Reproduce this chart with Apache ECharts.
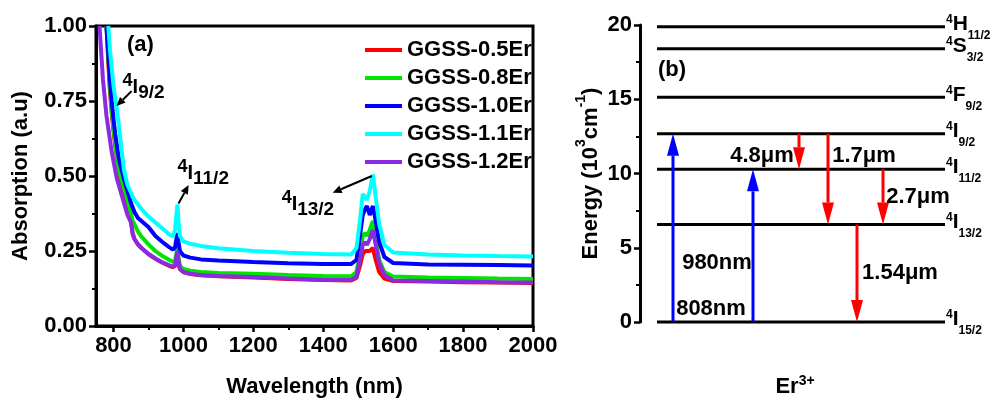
<!DOCTYPE html>
<html><head><meta charset="utf-8">
<script src="https://cdn.jsdelivr.net/npm/echarts@6/dist/echarts.min.js"></script>
<style>html,body{margin:0;padding:0;background:#fff}#c{width:992px;height:403px}</style>
</head><body><div id="c"></div>
<script>
// ---------- Panel (a): absorption spectra ----------
const wavelength = [760,770,780,785,790,795,800,805,810,815,820,830,840,850,855,860,870,880,900,920,940,960,970,976,980,983,986,990,1000,1020,1050,1100,1200,1300,1400,1480,1495,1505,1513,1520,1525,1533,1542,1550,1560,1575,1600,1700,1800,1900,2000];
const absEr05 = [null,null,1.0,0.88,0.78,0.71,0.65,0.60,0.56,0.52,0.49,0.43,0.38,0.35,0.31,0.29,0.272,0.26,0.24,0.224,0.211,0.200,0.196,0.200,0.222,0.232,0.210,0.190,0.180,0.173,0.169,0.166,0.162,0.157,0.153,0.152,0.160,0.200,0.240,0.250,0.245,0.250,0.260,0.220,0.180,0.158,0.150,0.148,0.146,0.145,0.143];
const absEr08 = [null,null,1.0,0.90,0.80,0.72,0.66,0.61,0.56,0.52,0.50,0.46,0.42,0.375,0.35,0.34,0.315,0.298,0.272,0.250,0.233,0.220,0.214,0.216,0.240,0.263,0.230,0.200,0.190,0.184,0.180,0.177,0.174,0.170,0.167,0.166,0.180,0.240,0.300,0.310,0.300,0.320,0.350,0.290,0.220,0.180,0.165,0.162,0.160,0.158,0.157];
const absEr10 = [null,null,1.0,0.91,0.82,0.75,0.69,0.64,0.60,0.56,0.535,0.49,0.45,0.41,0.395,0.38,0.36,0.35,0.33,0.30,0.28,0.262,0.255,0.262,0.290,0.310,0.280,0.250,0.235,0.228,0.222,0.218,0.213,0.209,0.207,0.207,0.220,0.300,0.370,0.390,0.400,0.370,0.400,0.350,0.280,0.230,0.210,0.205,0.204,0.203,0.202];
const absEr11 = [null,null,null,1.0,0.92,0.86,0.80,0.76,0.72,0.67,0.62,0.52,0.47,0.445,0.43,0.42,0.405,0.39,0.365,0.345,0.325,0.305,0.298,0.320,0.370,0.405,0.350,0.300,0.282,0.274,0.267,0.259,0.250,0.244,0.240,0.238,0.260,0.350,0.440,0.430,0.420,0.450,0.505,0.430,0.340,0.270,0.245,0.238,0.235,0.233,0.232];
const absEr12 = [1.0,0.82,0.70,0.66,0.62,0.58,0.55,0.52,0.49,0.47,0.45,0.41,0.37,0.345,0.305,0.29,0.272,0.26,0.24,0.225,0.212,0.202,0.198,0.200,0.230,0.250,0.220,0.190,0.180,0.174,0.170,0.167,0.163,0.158,0.154,0.153,0.165,0.220,0.270,0.280,0.270,0.290,0.320,0.270,0.210,0.170,0.152,0.150,0.148,0.146,0.145];
const seriesNames = ['GGSS-0.5Er','GGSS-0.8Er','GGSS-1.0Er','GGSS-1.1Er','GGSS-1.2Er'];
const xTickValues = [800,1000,1200,1400,1600,1800,2000];
const xMinorTickValues = [900,1100,1300,1500,1700,1900];
// annotations of panel (a)
const termA = [['4','I','9/2'],['4','I','11/2'],['4','I','13/2']];
const termAWl = [826,983,1281];
const termAAbs = [0.796,0.51,0.405];
const pointerFromWl = [851.6,986,1539];
const pointerFromAbs = [0.783,0.408,0.5];
const pointerToWl = [808.6,1015,1427];
const pointerToAbs = [0.733,0.47,0.444];

// ---------- Panel (b): Er3+ energy levels ----------
const levelLetter = ['H','S','F','I','I','I','I'];
const levelJ = ['11/2','3/2','9/2','9/2','11/2','13/2','15/2'];
const levelEnergy = [19.88,18.4,15.13,12.68,10.28,6.56,0];
const transLabel = ['808nm','980nm','4.8μm','1.7μm','1.54μm','2.7μm'];
const transFrom = [0,0,12.68,12.68,6.56,10.28];
const transTo = [12.68,10.28,10.28,6.56,0,6.56];
const transX = [33,113,159,188,217,243];
const transLabelX = [71,77,122,224,260,278];
const transLabelE = [0.85,4.0,11.15,11.15,3.28,8.4];

const colors = ['#ff0000','#00e400','#0000ff','#00ffff','#8a2be2'];
const FONT = '"Liberation Sans", Arial, sans-serif';
const BOLD = 'bold';

function arrowShape(p0, p1, headL, headW, color, lw) {
  const dx = p1[0]-p0[0], dy = p1[1]-p0[1];
  const len = Math.sqrt(dx*dx+dy*dy);
  const ux = dx/len, uy = dy/len;
  const bx = p1[0]-ux*headL, by = p1[1]-uy*headL;
  const nx = -uy, ny = ux;
  return [
    {type:'line', shape:{x1:p0[0],y1:p0[1],x2:bx,y2:by}, style:{stroke:color,lineWidth:lw}},
    {type:'polygon', shape:{points:[[p1[0],p1[1]],[bx+nx*headW/2,by+ny*headW/2],[bx-nx*headW/2,by-ny*headW/2]]}, style:{fill:color}}
  ];
}

const termRichA = {
  s:{fontSize:18,fontWeight:BOLD,fontFamily:FONT,lineHeight:17,verticalAlign:'top',fill:'#000'},
  m:{fontSize:20,fontWeight:BOLD,fontFamily:FONT,lineHeight:30,verticalAlign:'middle',fill:'#000'},
  b:{fontSize:19,fontWeight:BOLD,fontFamily:FONT,lineHeight:18,verticalAlign:'bottom',fill:'#000'}
};
const termRichB = {
  s:{fontSize:12,fontWeight:BOLD,fontFamily:FONT,lineHeight:12,verticalAlign:'top',fill:'#000'},
  m:{fontSize:21,fontWeight:BOLD,fontFamily:FONT,lineHeight:28,verticalAlign:'top',fill:'#000'},
  b:{fontSize:12,fontWeight:BOLD,fontFamily:FONT,lineHeight:12,verticalAlign:'bottom',fill:'#000'}
};

const spectra = [absEr05,absEr08,absEr10,absEr11,absEr12].map((arr,k)=>({
  type:'line', name:seriesNames[k], xAxisIndex:0, yAxisIndex:0,
  data: wavelength.map((w,i)=>[w,arr[i]]).filter(d=>d[1]!==null),
  symbol:'none', lineStyle:{width:4,color:colors[k]}, itemStyle:{color:colors[k]}, clip:true, z:2
}));

const option = {
  animation:false,
  backgroundColor:'#fff',
  textStyle:{fontFamily:FONT,fontWeight:BOLD,color:'#000'},
  grid:[
    {left:96,right:459,top:26,bottom:73,show:true,borderColor:'#000',borderWidth:3,backgroundColor:'transparent'},
    {left:640,right:42,top:25,bottom:73}
  ],
  legend:{
    data:seriesNames, orient:'vertical', left:360, top:34, itemWidth:37, itemHeight:4, itemGap:6,
    icon:'rect', selectedMode:false,
    textStyle:{fontSize:22,fontWeight:BOLD,fontFamily:FONT,color:'#000',lineHeight:22}
  },
  xAxis:[
    {gridIndex:0,type:'value',min:750,max:2000,position:'bottom',
     axisLine:{show:true,lineStyle:{color:'#000',width:3}},
     axisTick:{show:true,customValues:xTickValues,length:6,lineStyle:{color:'#000',width:2.5}},
     axisLabel:{customValues:xTickValues,formatter:v=>String(v),fontSize:22,fontWeight:BOLD,fontFamily:FONT,color:'#000',margin:9},
     splitLine:{show:false},
     name:'Wavelength (nm)',nameLocation:'middle',nameGap:50,
     nameTextStyle:{fontSize:22,fontWeight:BOLD,fontFamily:FONT,color:'#000'}},
    {gridIndex:0,type:'value',min:750,max:2000,position:'bottom',
     axisLine:{show:false},
     axisTick:{show:true,customValues:xMinorTickValues,length:4,lineStyle:{color:'#000',width:2}},
     axisLabel:{show:false},splitLine:{show:false}},
    {gridIndex:1,type:'value',min:0,max:310,
     axisLine:{show:false},axisTick:{show:false},axisLabel:{show:false},splitLine:{show:false},
     name:'{a|Er}{b|3+}',nameLocation:'middle',nameGap:52,
     nameTextStyle:{rich:{
       a:{fontSize:22,fontWeight:BOLD,fontFamily:FONT,color:'#000',lineHeight:26,verticalAlign:'middle'},
       b:{fontSize:14,fontWeight:BOLD,fontFamily:FONT,color:'#000',lineHeight:14,verticalAlign:'top'}}}}
  ],
  yAxis:[
    {gridIndex:0,type:'value',min:0,max:1,interval:0.25,
     axisLine:{show:true,lineStyle:{color:'#000',width:3}},
     axisTick:{show:true,length:7,lineStyle:{color:'#000',width:2.5}},
     minorTick:{show:true,splitNumber:2,length:4,lineStyle:{color:'#000',width:2}},
     axisLabel:{formatter:v=>v.toFixed(2),fontSize:22,fontWeight:BOLD,fontFamily:FONT,color:'#000',margin:9},
     splitLine:{show:false},
     name:'Absorption (a.u)',nameLocation:'middle',nameRotate:90,nameGap:64,
     nameTextStyle:{fontSize:22,fontWeight:BOLD,fontFamily:FONT,color:'#000'}},
    {gridIndex:1,type:'value',min:0,max:20,interval:5,
     axisLine:{show:true,lineStyle:{color:'#000',width:3}},
     axisTick:{show:true,length:6,lineStyle:{color:'#000',width:2.5}},
     minorTick:{show:true,splitNumber:2,length:4,lineStyle:{color:'#000',width:2}},
     axisLabel:{fontSize:22,fontWeight:BOLD,fontFamily:FONT,color:'#000',margin:8},
     splitLine:{show:false},
     name:'{t|Energy (10}{s|3}{t|cm}{s|-1}{t|)}',nameLocation:'middle',nameRotate:90,nameGap:38,
     nameTextStyle:{rich:{
       t:{fontSize:22,fontWeight:BOLD,fontFamily:FONT,color:'#000',lineHeight:28,verticalAlign:'bottom'},
       s:{fontSize:14,fontWeight:BOLD,fontFamily:FONT,color:'#000',lineHeight:14,verticalAlign:'top'}}}}
  ],
  series:[
    ...spectra,
    // panel (a) annotations: term labels
    {type:'custom',xAxisIndex:0,yAxisIndex:0,z:5,
     data:termA.map((t,i)=>[termAWl[i],termAAbs[i],i]),
     renderItem:(params,api)=>{
       const i=api.value(2); const p=api.coord([api.value(0),api.value(1)]);
       const t=termA[i];
       return {type:'text',x:p[0],y:p[1],style:{text:`{s|${t[0]}}{m|${t[1]}}{b|${t[2]}}`,rich:termRichA,align:'left',verticalAlign:'middle'}};
     }},
    // panel (a) pointer arrows
    {type:'custom',xAxisIndex:0,yAxisIndex:0,z:5,
     data:pointerFromWl.map((w,i)=>[w,pointerFromAbs[i],pointerToWl[i],pointerToAbs[i]]),
     renderItem:(params,api)=>{
       const p0=api.coord([api.value(0),api.value(1)]), p1=api.coord([api.value(2),api.value(3)]);
       return {type:'group',children:arrowShape(p0,p1,9,8,'#000',2)};
     }},
    // panel label (a)
    {type:'custom',xAxisIndex:0,yAxisIndex:0,z:5,data:[[877,0.9375]],
     renderItem:(params,api)=>{const p=api.coord([api.value(0),api.value(1)]);
       return {type:'text',x:p[0],y:p[1],style:{text:'(a)',font:'bold 22px '+FONT,fill:'#000',align:'center',verticalAlign:'middle'}};}},
    // panel (b): levels
    {type:'custom',xAxisIndex:2,yAxisIndex:1,z:3,
     data:levelEnergy.map((e,i)=>[e,i]),
     renderItem:(params,api)=>{
       const e=api.value(0), i=api.value(1);
       const a=api.coord([17,e]), b=api.coord([305,e]);
       return {type:'group',children:[
         {type:'line',shape:{x1:a[0],y1:a[1],x2:b[0],y2:b[1]},style:{stroke:'#000',lineWidth:3}},
         {type:'text',x:b[0]+1,y:b[1]+1,style:{text:`{s|4}{m|${levelLetter[i]}}{b|${levelJ[i]}}`,rich:termRichB,align:'left',verticalAlign:'middle'}}
       ]};
     }},
    // panel (b): transitions
    {type:'custom',xAxisIndex:2,yAxisIndex:1,z:4,
     data:transX.map((x,i)=>[x,transFrom[i],transTo[i]]),
     renderItem:(params,api)=>{
       const x=api.value(0), f=api.value(1), t=api.value(2);
       const p0=api.coord([x,f]), p1=api.coord([x,t]);
       const color = t>f ? '#0000ff' : '#ff0000';
       return {type:'group',children:arrowShape(p0,p1,22,12,color,3)};
     }},
    // panel (b): transition labels
    {type:'custom',xAxisIndex:2,yAxisIndex:1,z:5,
     data:transLabelX.map((x,i)=>[x,transLabelE[i],i]),
     renderItem:(params,api)=>{
       const p=api.coord([api.value(0),api.value(1)]);
       return {type:'text',x:p[0],y:p[1],style:{text:transLabel[api.value(2)],font:'bold 22px '+FONT,fill:'#000',align:'center',verticalAlign:'middle'}};
     }},
    // panel label (b)
    {type:'custom',xAxisIndex:2,yAxisIndex:1,z:5,data:[[32,17.0]],
     renderItem:(params,api)=>{const p=api.coord([api.value(0),api.value(1)]);
       return {type:'text',x:p[0],y:p[1],style:{text:'(b)',font:'bold 22px '+FONT,fill:'#000',align:'center',verticalAlign:'middle'}};}}
  ]
};
const chart = echarts.init(document.getElementById('c'));
chart.setOption(option);
</script></body></html>
